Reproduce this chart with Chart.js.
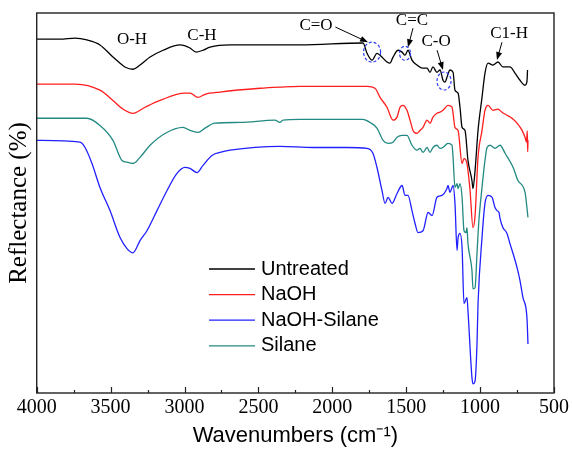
<!DOCTYPE html>
<html>
<head>
<meta charset="utf-8">
<title>FTIR spectra</title>
<script src="https://cdn.jsdelivr.net/npm/chart.js@4.4.1/dist/chart.umd.min.js"></script>
<style>
  html, body { margin: 0; padding: 0; background: #fff; }
  #wrap { width: 572px; height: 449px; }
</style>
</head>
<body>
<div id="wrap"><canvas id="ftir" width="572" height="449"></canvas></div>
<script>
// wavenumber (cm-1) / reflectance (%) pairs, one pair of arrays per sample
const untreatedWn = [4000,3842,3740,3660,3572,3484,3436,3403,3348,3301,3233,3145,3030,2963,2922,2875,2827,2692,2219,1792,1765,1731,1698,1677,1630,1610,1589,1555,1528,1508,1488,1461,1427,1393,1359,1339,1319,1292,1271,1251,1237,1224,1204,1183,1170,1149,1136,1122,1102,1082,1055,1048,1034,1014,987,967,946,913,879,845,798,764,730,696,683,679];
const untreatedR = [93.1,93.1,93.4,92.9,91.6,88.4,86.8,85.8,85.2,86.3,88.4,90.2,91.6,90.8,89.7,90.2,91.0,91.6,91.6,92.1,89.4,87.6,89.4,88.9,87.1,86.8,88.4,90.2,89.7,88.9,90.2,87.6,86.3,85.5,85.5,84.4,85.8,84.4,85.0,82.3,81.8,83.1,85.0,84.4,79.7,78.9,75.2,69.9,69.1,61.2,55.9,53.8,58.6,69.1,77.8,84.2,86.8,86.3,87.1,85.8,85.8,84.2,82.3,81.0,82.0,85.0];

const naohWn = [4000,3740,3572,3484,3423,3348,3267,3166,2997,2963,2909,2861,2760,2489,2354,2219,1765,1711,1677,1630,1589,1562,1542,1522,1495,1474,1454,1427,1407,1386,1359,1339,1319,1292,1271,1251,1217,1190,1183,1170,1149,1122,1109,1089,1068,1048,1034,1014,987,967,946,913,879,852,818,784,750,716,696,686,681,678,676];
const naohR = [81.3,81.3,79.7,77.0,74.9,73.6,75.2,77.0,78.9,78.9,77.8,78.6,79.2,80.2,80.5,80.7,80.7,80.2,77.8,75.2,71.8,72.6,75.2,75.7,74.4,71.8,69.1,68.3,69.1,69.9,71.8,71.0,72.6,73.6,73.9,74.4,75.7,75.2,73.6,69.9,69.1,60.4,61.7,60.4,53.3,43.5,46.7,62.0,69.1,74.4,75.7,74.4,74.7,73.9,73.1,72.3,71.0,69.1,67.3,66.0,69.0,63.5,66.5];

const naohSilaneWn = [4000,3707,3673,3626,3572,3504,3436,3389,3348,3301,3254,3186,3118,3051,2997,2963,2915,2875,2814,2760,2692,2354,2131,1901,1765,1725,1698,1664,1643,1623,1596,1562,1528,1508,1488,1461,1440,1420,1386,1352,1325,1292,1258,1224,1217,1204,1190,1183,1170,1156,1149,1136,1122,1109,1089,1082,1055,1048,1034,1021,1014,987,967,946,919,899,886,872,865,845,818,798,777,750,730,710,683,676];
const naohSilaneR = [66.5,66.0,64.6,60.4,54.1,48.0,40.9,38.0,36.9,40.1,42.7,48.0,53.3,57.8,59.4,59.1,58.0,59.9,62.5,63.3,63.9,64.9,64.6,64.6,64.4,63.1,59.4,53.3,49.9,51.5,49.9,52.5,54.6,52.0,52.0,48.0,44.6,42.2,42.7,47.5,46.7,51.5,52.0,53.8,54.6,52.8,54.1,54.6,49.9,37.5,40.9,42.0,38.3,23.5,25.1,21.6,4.0,2.4,3.2,12.9,23.5,40.9,49.9,52.0,51.5,48.8,48.0,47.5,45.9,43.5,42.0,39.3,36.7,33.0,29.6,25.1,19.8,12.9];

const silaneWn = [4000,3660,3572,3484,3423,3382,3348,3301,3233,3132,3010,2963,2909,2861,2794,2624,2388,2354,2334,2219,1792,1745,1698,1657,1623,1589,1562,1528,1495,1461,1427,1407,1386,1359,1339,1319,1292,1271,1251,1217,1190,1183,1170,1156,1149,1136,1122,1109,1095,1089,1082,1055,1048,1034,1021,1008,987,967,953,933,899,865,831,777,744,696,676];
const silaneR = [72.3,72.3,70.4,66.5,61.2,60.7,60.4,62.0,65.2,68.3,69.9,69.1,68.6,69.7,71.0,71.2,71.8,71.2,71.8,72.0,72.0,71.2,69.7,66.5,65.7,66.0,67.3,67.8,67.8,65.2,63.9,64.4,63.3,64.6,63.3,64.6,65.2,64.4,64.6,65.7,65.2,62.0,54.1,55.1,53.8,55.1,51.5,42.7,42.2,43.5,39.3,32.2,27.4,27.7,36.7,45.4,54.1,61.2,64.6,65.2,64.4,65.2,63.1,59.4,55.9,52.8,46.2];

// band assignments written above the spectra
const bandLabels = ['O-H', 'C-H', 'C=O', 'C=C', 'C-O', 'C1-H'];
const bandLabelWn = [3355, 2882, 2110, 1461, 1298, 804];
const bandLabelR = [93.1, 94.2, 96.6, 97.9, 92.6, 94.5];

// arrows: C=O, C=C, C-O, C1-H
const arrowFromWn = [1979, 1454, 1291, 852];
const arrowFromR = [96.3, 96.0, 90.2, 92.3];
const arrowToWn = [1758, 1488, 1251, 886];
const arrowToR = [92.3, 91.0, 85.0, 87.6];

// dashed rings around the C=O, C=C and C-O bands
const ringWn = [1731, 1508, 1244];
const ringR = [89.7, 89.4, 82.1];

const xTicks = [4000, 3500, 3000, 2500, 2000, 1500, 1000, 500];

function pairs(wn, r) {
  return wn.map((w, i) => ({ x: w, y: r[i] }));
}

const series = [
  { label: 'Untreated', wn: untreatedWn, r: untreatedR, color: '#000000' },
  { label: 'NaOH', wn: naohWn, r: naohR, color: '#ff1e1e' },
  { label: 'NaOH-Silane', wn: naohSilaneWn, r: naohSilaneR, color: '#2020ff' },
  { label: 'Silane', wn: silaneWn, r: silaneR, color: '#228a82' }
];

const bandMarks = {
  id: 'bandMarks',
  afterDatasetsDraw(chart) {
    const { ctx, scales: { x, y } } = chart;
    ctx.save();

    ctx.strokeStyle = '#2a3cf0';
    ctx.lineWidth = 1.2;
    ctx.setLineDash([3, 2]);
    const radii = [[8.5, 10], [5.5, 7], [7, 9]];
    ringWn.forEach((w, i) => {
      ctx.beginPath();
      ctx.ellipse(x.getPixelForValue(w), y.getPixelForValue(ringR[i]), radii[i][0], radii[i][1], 0, 0, Math.PI * 2);
      ctx.stroke();
    });
    ctx.setLineDash([]);

    ctx.strokeStyle = '#000';
    ctx.fillStyle = '#000';
    ctx.lineWidth = 1;
    arrowFromWn.forEach((w, i) => {
      const x0 = x.getPixelForValue(w), y0 = y.getPixelForValue(arrowFromR[i]);
      const x1 = x.getPixelForValue(arrowToWn[i]), y1 = y.getPixelForValue(arrowToR[i]);
      const a = Math.atan2(y1 - y0, x1 - x0);
      const head = 8, half = 3;
      ctx.beginPath();
      ctx.moveTo(x0, y0);
      ctx.lineTo(x1 - Math.cos(a) * head * 0.8, y1 - Math.sin(a) * head * 0.8);
      ctx.stroke();
      ctx.beginPath();
      ctx.moveTo(x1, y1);
      ctx.lineTo(x1 - Math.cos(a) * head - Math.sin(a) * half, y1 - Math.sin(a) * head + Math.cos(a) * half);
      ctx.lineTo(x1 - Math.cos(a) * head + Math.sin(a) * half, y1 - Math.sin(a) * head - Math.cos(a) * half);
      ctx.closePath();
      ctx.fill();
    });

    ctx.font = '17px "Liberation Serif", "Times New Roman", serif';
    ctx.textAlign = 'center';
    ctx.textBaseline = 'middle';
    bandLabels.forEach((t, i) => {
      ctx.fillText(t, x.getPixelForValue(bandLabelWn[i]), y.getPixelForValue(bandLabelR[i]));
    });
    ctx.restore();
  }
};

// frame, inward ticks and the legend inside the plot
const frameAndLegend = {
  id: 'frameAndLegend',
  afterDraw(chart) {
    const { ctx, chartArea: a, scales: { x } } = chart;
    ctx.save();
    ctx.strokeStyle = '#222';
    ctx.lineWidth = 1.4;
    ctx.strokeRect(a.left, a.top, a.right - a.left, a.bottom - a.top);

    ctx.lineWidth = 1.2;
    for (let w = 4000; w >= 500; w -= 250) {
      const px = Math.round(x.getPixelForValue(w)) + 0.5;
      const len = xTicks.includes(w) ? 6 : 3;
      ctx.beginPath();
      ctx.moveTo(px, a.bottom);
      ctx.lineTo(px, a.bottom - len);
      ctx.stroke();
    }

    ctx.font = '20px "Liberation Sans", Arial, sans-serif';
    ctx.textBaseline = 'middle';
    ctx.textAlign = 'left';
    chart.data.datasets.forEach((ds, i) => {
      const ly = 269 + i * 25.6;
      ctx.strokeStyle = ds.borderColor;
      ctx.lineWidth = 1.3;
      ctx.beginPath();
      ctx.moveTo(209, ly);
      ctx.lineTo(255, ly);
      ctx.stroke();
      ctx.fillStyle = '#000';
      ctx.fillText(ds.label, 261, ly);
    });
    ctx.restore();
  }
};

new Chart(document.getElementById('ftir').getContext('2d'), {
  type: 'line',
  data: {
    datasets: series.map(s => ({
      label: s.label,
      data: pairs(s.wn, s.r),
      borderColor: s.color,
      backgroundColor: s.color,
      borderWidth: 1.3,
      pointRadius: 0,
      cubicInterpolationMode: 'monotone',
      fill: false
    }))
  },
  options: {
    responsive: false,
    animation: false,
    events: [],
    layout: { padding: { top: 13, right: 18, left: 0, bottom: 0 } },
    plugins: {
      legend: { display: false },
      tooltip: { enabled: false }
    },
    scales: {
      x: {
        type: 'linear',
        reverse: true,
        min: 500,
        max: 4000,
        grid: { display: false, drawTicks: false },
        border: { display: false },
        ticks: {
          stepSize: 500,
          autoSkip: false,
          maxRotation: 0,
          padding: 3,
          color: '#000',
          font: { family: '"Liberation Serif", "Times New Roman", serif', size: 20 },
          callback: v => String(v)
        },
        title: {
          display: true,
          text: 'Wavenumbers (cm\u207B\u00B9)',
          color: '#000',
          padding: { top: 0, bottom: 0 },
          font: { family: '"Liberation Sans", Arial, sans-serif', size: 22 }
        },
        afterFit(scale) { scale.height = 56; }
      },
      y: {
        min: 0,
        max: 100,
        grid: { display: false, drawTicks: false },
        border: { display: false },
        ticks: { display: false },
        title: {
          display: true,
          text: 'Reflectance (%)',
          color: '#000',
          padding: { top: 4, bottom: 0 },
          font: { family: '"Liberation Serif", "Times New Roman", serif', size: 25 }
        },
        afterFit(scale) { scale.width = 36.7; }
      }
    }
  },
  plugins: [bandMarks, frameAndLegend]
});
</script>
</body>
</html>
